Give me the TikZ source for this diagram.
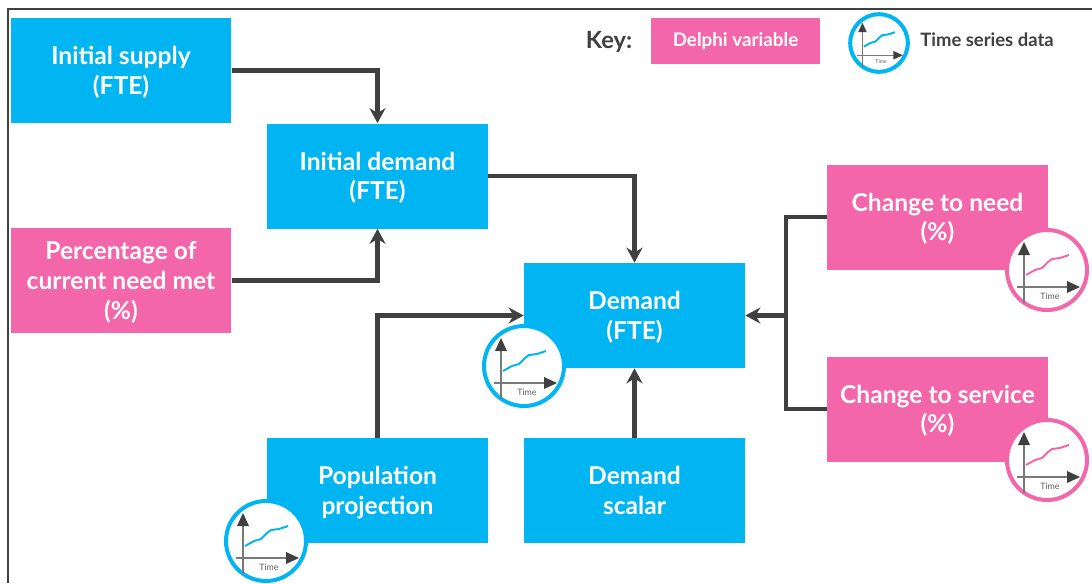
\documentclass[tikz,border=0pt]{standalone}
\usepackage{fontspec}
\setmainfont{Lato}
\usetikzlibrary{arrows.meta, positioning}
\definecolor{boxblue}{HTML}{00B5F1}
\definecolor{boxpink}{HTML}{F366A9}
\definecolor{linegray}{HTML}{404040}
\newcommand{\boxtext}[1]{\raisebox{-1.7pt}[\height][\depth]{\begin{tabular}{@{}c@{}}#1\end{tabular}}}
\tikzset{
	pics/timeicon/.style n args={3}{code={
		\draw[#1, line width=#2, fill=white] (0,0) circle (40);
		\draw[linegray!70, line width=0.7pt] (-23,33) -- (-23,-20);
		\draw[linegray!70, line width=0.7pt] (-30,17) -- (22,17);
		\fill[linegray] (-23,-28) -- (-17,-15) -- (-29,-15) -- cycle;
		\fill[linegray] (33,17) -- (20,11) -- (20,23) -- cycle;
		\draw[#1, line width=1.1pt, line join=round] (-21,5) -- (-12,0) -- (-5,-2) -- (1,-8) -- (5,-11) -- (13,-12) -- (22,-15);
		\node[text=linegray!85, font=#3, inner sep=0] (-time) at (3,26) {Time};
	}}
}
\begin{document}
\begin{tikzpicture}[x=0.02cm, y=-0.02cm, >={Stealth[length=0.3cm,width=0.32cm]}]
		
		% Define block styles
		\tikzstyle{base} = [rectangle, fill=boxblue, inner sep=0, text=white, align=center]
		\tikzstyle{block} = [base, minimum width=4.42cm, minimum height=2.1cm, font=\fontsize{14}{17}\selectfont\bfseries]
		\tikzstyle{delphi} = [block, fill=boxpink]
		\tikzstyle{link} = [draw=linegray, line width=0.088cm]
		\tikzstyle{keytext} = [text=linegray, inner sep=0]
		
		\useasboundingbox (0,0) rectangle (1092,583);
		\draw[linegray, line width=0.05cm] (8,583) -- (8,9) -- (1092,9);
		
		% Nodes
		\node[block] (supply) at (121,70.5) {\boxtext{Initial supply\\(FTE)}};
		\node[block] (initdemand) at (377.5,176) {\boxtext{Initial demand\\(FTE)}};
		\node[delphi] (needmet) at (121,280.5) {\boxtext{Percentage of\\current need met\\(\%)}};
		\node[block] (demand) at (634.5,315.5) {\boxtext{Demand\\(FTE)}};
		\node[block] (population) at (377.5,490.5) {\boxtext{Population\\projection}};
		\node[block] (scalar) at (634.5,490.5) {\boxtext{Demand\\scalar}};
		\node[delphi] (need) at (937.5,217) {\boxtext{Change to need\\(\%)}};
		\node[delphi] (service) at (937.5,409) {\boxtext{Change to service\\(\%)}};
		\coordinate (junction) at (786,315.5);
		
		% Arrows
		\draw[link, ->] (supply.east) -| (initdemand.north);
		\draw[link, ->] (needmet.east) -| (initdemand.south);
		\draw[link, ->] (initdemand.east) -| (demand.north);
		\draw[link, ->] (population.north) |- (demand.west);
		\draw[link, ->] (scalar.north) -- (demand.south);
		\draw[link] (need.west) -| (junction);
		\draw[link] (service.west) -| (junction);
		\draw[link, ->] (junction) -- (demand.east);
		
		% Icons
		\pic (demandicon) at (524,366) {timeicon={boxblue}{0.08cm}{\fontsize{5}{6}\selectfont}};
		\pic (popicon) at (266,541) {timeicon={boxblue}{0.08cm}{\fontsize{5}{6}\selectfont}};
		\pic (needicon) at (1047,270) {timeicon={boxpink}{0.08cm}{\fontsize{5}{6}\selectfont}};
		\pic (serviceicon) at (1047,460) {timeicon={boxpink}{0.08cm}{\fontsize{5}{6}\selectfont}};
		
		% Key
		\node[keytext, font=\fontsize{13.5}{15}\selectfont\bfseries] (keylabel) at (609,42) {Key:};
		\node[base, fill=boxpink, minimum width=3.38cm, minimum height=0.92cm, font=\fontsize{10.7}{12}\selectfont\bfseries] (keybox) at (735.5,41) {Delphi variable};
		\pic[scale=0.72] (keyicon) at (879,43) {timeicon={boxblue}{0.08cm}{\fontsize{3}{4}\selectfont}};
		\node[keytext, anchor=west, font=\fontsize{10.5}{12}\selectfont\bfseries] (keyseries) at (920,40) {Time series data};
		
	\end{tikzpicture}
\end{document}
